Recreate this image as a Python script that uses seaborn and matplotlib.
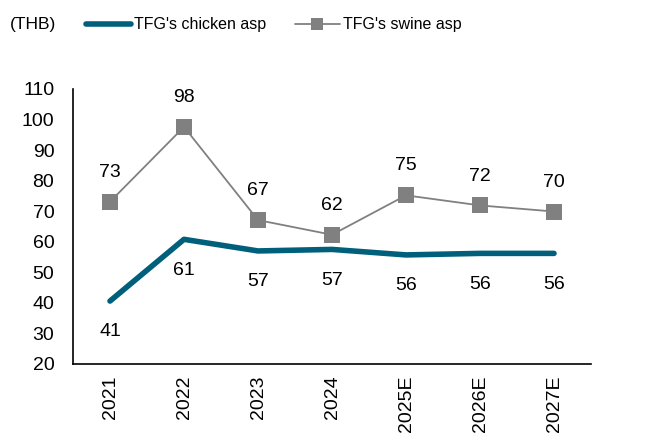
import numpy as np
import pandas as pd
import matplotlib.pyplot as plt
import seaborn as sns

years = ['2021', '2022', '2023', '2024', '2025E', '2026E', '2027E']
chicken_asp = [40.6, 60.8, 57.0, 57.5, 55.7, 56.2, 56.2]
swine_asp = [73.1, 97.6, 67.1, 62.3, 75.2, 71.9, 69.9]
chicken_labels = ['41', '61', '57', '57', '56', '56', '56']
swine_labels = ['73', '98', '67', '62', '75', '72', '70']

sns.set_style('white')
plt.rcParams['font.family'] = ['Liberation Sans', 'DejaVu Sans']
plt.rcParams['text.color'] = 'black'
plt.rcParams['xtick.color'] = 'black'
plt.rcParams['ytick.color'] = 'black'

df = pd.DataFrame({'pos': np.arange(len(years)), 'chicken': chicken_asp, 'swine': swine_asp})

fig = plt.figure(figsize=(6.56, 4.37), dpi=100)
ax = fig.add_axes([73 / 656, 1 - 364 / 437, (591 - 73) / 656, (364 - 89) / 437])

sns.lineplot(data=df, x='pos', y='chicken', ax=ax, color='#005f7a', linewidth=4,
             solid_capstyle='round', label="TFG's chicken asp")
sns.lineplot(data=df, x='pos', y='swine', ax=ax, color='#808080', linewidth=1.3,
             marker='s', markersize=11, markeredgewidth=0, label="TFG's swine asp")

for i in range(len(years)):
    ax.annotate(swine_labels[i], (i, swine_asp[i]), xytext=(0, 15), textcoords='offset points',
                ha='center', va='bottom', fontsize=14)
    ax.annotate(chicken_labels[i], (i, chicken_asp[i]), xytext=(0, -16), textcoords='offset points',
                ha='center', va='top', fontsize=14)

ax.set_xlim(-0.5, len(years) - 0.5)
ax.set_ylim(20, 110)
ax.set_yticks(range(20, 111, 10))
ax.set_xticks(range(len(years)))
ax.set_xticklabels(years, rotation=90, fontsize=14)
ax.set_xticks(np.arange(len(years)) + 0.5, minor=True)
ax.tick_params(axis='x', which='major', length=0, pad=8)
ax.tick_params(axis='x', which='minor', length=4.5, width=1, direction='out', color='black')
ax.tick_params(axis='y', length=4.5, width=1, direction='out', color='black', labelsize=14, pad=9)
ax.set_xlabel('')
ax.set_ylabel('')
for side in ['top', 'right']:
    ax.spines[side].set_visible(False)
for side in ['left', 'bottom']:
    ax.spines[side].set_color('black')
    ax.spines[side].set_linewidth(1.2)

leg = ax.legend(loc='center left', bbox_to_anchor=(86 / 656, 1 - 25 / 437), bbox_transform=fig.transFigure,
                ncol=2, frameon=False, fontsize=11.5, handlelength=2.8, handletextpad=0.2,
                columnspacing=1.8, borderaxespad=0, borderpad=0)
leg.legend_handles[1].set_markersize(8)
fig.text(10 / 656, 1 - 25 / 437, '(THB)', fontsize=12.5, va='center', ha='left')

fig.savefig('out.png', dpi=100)
